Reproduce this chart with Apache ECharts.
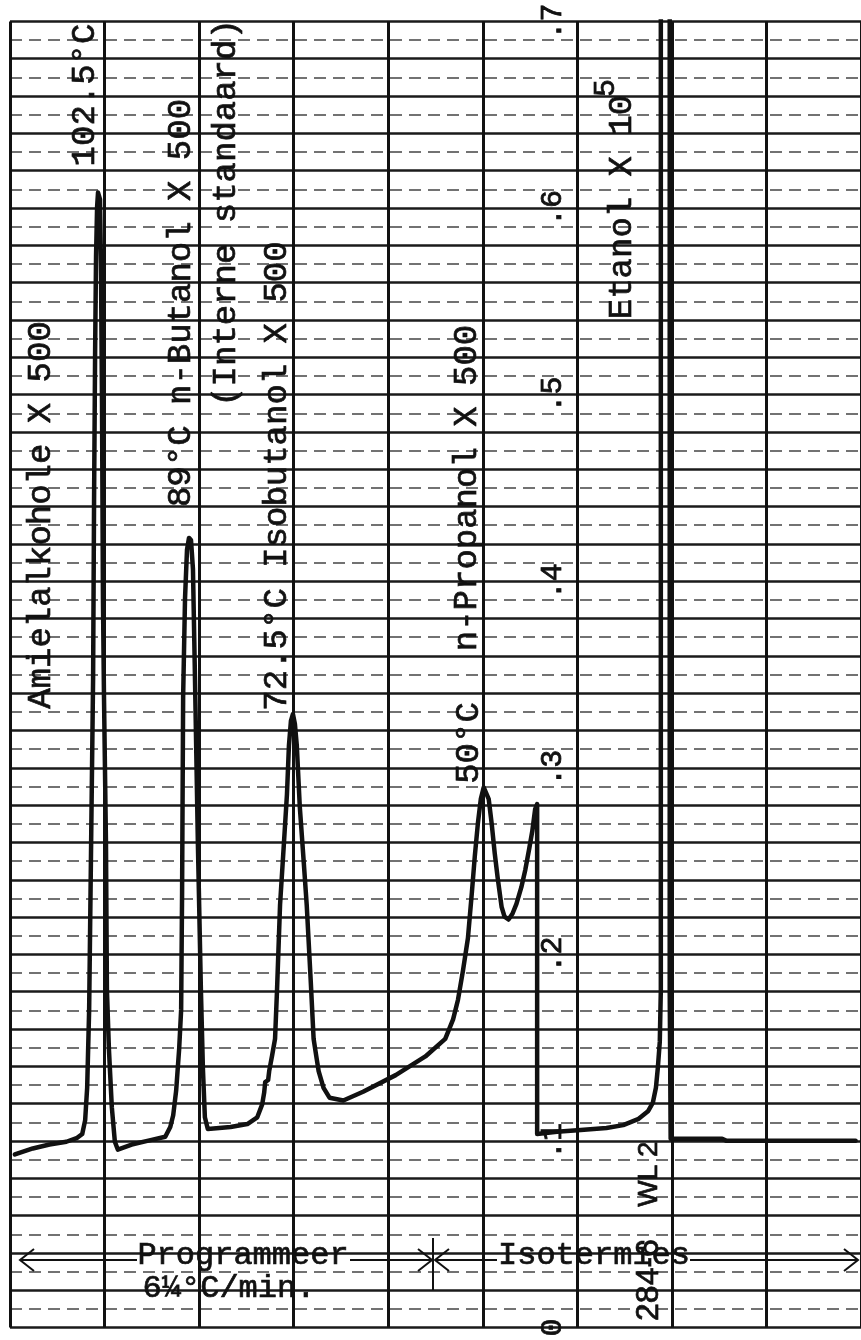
<!DOCTYPE html>
<html>
<head>
<meta charset="UTF-8">
<title>Gaschromatogram - fuselolie</title>
<script src="https://cdn.jsdelivr.net/npm/echarts@6/dist/echarts.min.js"></script>
<style>html,body{margin:0;padding:0;background:#fff;}</style>
</head>
<body>
<div id="main" style="width:861px;height:1340px;"></div>
<script>
// recorder trace, x in chart-paper divisions, y on the paper's .1 scale
var traceX = [0.052,0.241,0.418,0.596,0.711,0.764,0.795,0.805,0.816,0.837,
    0.858,0.879,0.889,0.900,0.910,0.921,0.931,0.952,0.962,0.973,
    0.983,0.994,1.015,1.025,1.046,1.077,1.109,1.140,1.287,1.464,
    1.642,1.695,1.726,1.757,1.789,1.810,1.820,1.831,1.851,1.872,
    1.893,1.914,1.935,1.956,1.987,2.019,2.040,2.061,2.092,2.333,
    2.510,2.615,2.667,2.688,2.699,2.730,2.741,2.772,2.803,2.824,
    2.856,2.897,2.929,2.950,2.971,2.992,3.013,3.033,3.065,3.107,
    3.138,3.180,3.211,3.243,3.264,3.316,3.379,3.525,3.734,4.079,
    4.393,4.603,4.686,4.738,4.791,4.843,4.885,4.916,4.948,4.979,
    5.010,5.031,5.063,5.094,5.126,5.157,5.199,5.230,5.272,5.314,
    5.356,5.408,5.450,5.492,5.523,5.554,5.575,5.575,5.596,5.785,
    6.036,6.308,6.485,6.642,6.747,6.799,6.831,6.851,6.872,6.883,
    6.883,6.977,6.977,6.987,7.531,7.573,8.943];
var traceY = [0.0928,0.0960,0.0981,0.0996,0.1017,0.1038,0.1112,0.1196,0.1285,0.1704,
    0.2596,0.3487,0.4431,0.5218,0.5742,0.6004,0.6083,0.6046,0.5690,0.4955,
    0.3907,0.3382,0.2596,0.1809,0.1494,0.1180,0.0996,0.0954,0.0981,0.1002,
    0.1023,0.1075,0.1138,0.1269,0.1494,0.1704,0.2334,0.3382,0.3907,0.4169,
    0.4232,0.4221,0.4064,0.3487,0.2596,0.1809,0.1390,0.1127,0.1064,0.1075,
    0.1091,0.1127,0.1196,0.1259,0.1316,0.1327,0.1374,0.1458,0.1547,0.1809,
    0.2265,0.2596,0.2858,0.3120,0.3251,0.3288,0.3235,0.3120,0.2790,0.2491,
    0.2265,0.1862,0.1547,0.1442,0.1374,0.1285,0.1232,0.1217,0.1264,0.1353,
    0.1453,0.1547,0.1652,0.1757,0.1914,0.2087,0.2334,0.2528,0.2701,0.2832,
    0.2895,0.2895,0.2832,0.2701,0.2543,0.2412,0.2255,0.2202,0.2187,0.2218,
    0.2271,0.2360,0.2454,0.2569,0.2659,0.2779,0.2805,0.1038,0.1038,0.1049,
    0.1059,0.1070,0.1085,0.1117,0.1159,0.1206,0.1285,0.1390,0.1531,0.1809,
    0.75,0.75,0.1809,0.1012,0.1012,0.1002,0.1002];
var scaleLabels = ['0', '.1', '.2', '.3', '.4', '.5', '.6', '.7'];

var mono = '"Liberation Mono", "DejaVu Sans Mono", monospace';
var ink = '#111';

function vText(txt, x, y, size, family) {
    return {
        type: 'text', x: x, y: y, rotation: Math.PI / 2, z: 10,
        style: {
            text: txt, fill: ink, fontSize: size, fontFamily: family || mono,
            stroke: ink, lineWidth: 0.7,
            align: 'center', verticalAlign: 'middle',
            textAlign: 'center', textVerticalAlign: 'middle'
        }
    };
}
function hText(txt, x, y, size) {
    return {
        type: 'text', x: x, y: y, z: 10,
        style: {
            text: txt, fill: ink, fontSize: size, fontFamily: mono,
            stroke: ink, lineWidth: 0.7,
            align: 'center', verticalAlign: 'middle',
            textAlign: 'center', textVerticalAlign: 'middle'
        }
    };
}
function seg(points) {
    return { type: 'polyline', z: 10, shape: { points: points },
        style: { stroke: ink, lineWidth: 2, fill: null } };
}

var myChart = echarts.init(document.getElementById('main'));
var option = {
    backgroundColor: '#fff',
    animation: false,
    grid: { left: 10, top: 10, width: 860.4, height: 1335 },
    xAxis: {
        type: 'value', min: 0, max: 9, interval: 1,
        axisLine: { show: false }, axisTick: { show: false }, axisLabel: { show: false },
        splitLine: { show: true, lineStyle: { color: ink, width: 3 } }
    },
    yAxis: [
        {
            type: 'value', min: 0, max: 0.7, interval: 0.02,
            axisLine: { show: false }, axisTick: { show: false }, axisLabel: { show: false },
            splitLine: { show: true, lineStyle: { color: '#1a1a1a', width: 2.5 } },
            minorTick: { show: false, splitNumber: 2 },
            minorSplitLine: { show: true, lineStyle: { color: '#444', width: 1.5, type: [12, 7] } }
        },
        {
            type: 'value', min: 0, max: 0.7, interval: 0.1,
            position: 'left', offset: -566,
            axisLine: { show: false }, axisTick: { show: false }, splitLine: { show: false },
            axisLabel: {
                rotate: 90, margin: 8, color: ink, fontSize: 30, fontFamily: mono,
                textBorderColor: ink, textBorderWidth: 0.8,
                formatter: function (v) { return scaleLabels[Math.round(v * 10)]; }
            }
        }
    ],
    series: [{
        type: 'line',
        data: traceX.map(function (x, i) { return [x, traceY[i]]; }),
        showSymbol: false, symbol: 'none', smooth: false, clip: true,
        lineStyle: { color: ink, width: 4.5, join: 'round', cap: 'round' },
        z: 5
    }],
    graphic: [
        vText('102.5°C', 85, 95, 34),
        vText('Amielalkohole X 500', 41, 515, 34),
        vText('89°C n-Butanol X 500', 181, 303, 34),
        vText('(Interne standaard)', 226, 213, 34),
        vText('72.5°C Isobutanol X 500', 277, 476, 34),
        vText('50°C', 469, 743, 34),
        vText('n-Propanol X 500', 467, 488, 34),
        vText('Etanol X 10', 622, 207, 34),
        vText('5', 606, 88, 30),
        vText('WL 2', 649, 1174, 28, '"Liberation Sans", Arial, sans-serif'),
        vText('284-6', 649, 1280, 32, '"Liberation Sans", Arial, sans-serif'),
        hText('Programmeer', 243, 1256, 32),
        hText('6¼°C/min.', 229, 1289, 32),
        hText('Isotermies', 594, 1256, 32),
        seg([[20, 1260], [137, 1260]]),
        seg([[350, 1260], [432, 1260]]),
        seg([[435, 1260], [497, 1260]]),
        seg([[690, 1260], [858, 1260]]),
        seg([[34, 1249], [20, 1260], [34, 1271]]),
        seg([[418, 1249], [432, 1260], [418, 1271]]),
        seg([[449, 1249], [435, 1260], [449, 1271]]),
        seg([[844, 1249], [858, 1260], [844, 1271]]),
        seg([[433, 1238], [433, 1290]])
    ]
};
myChart.setOption(option);
</script>
</body>
</html>
